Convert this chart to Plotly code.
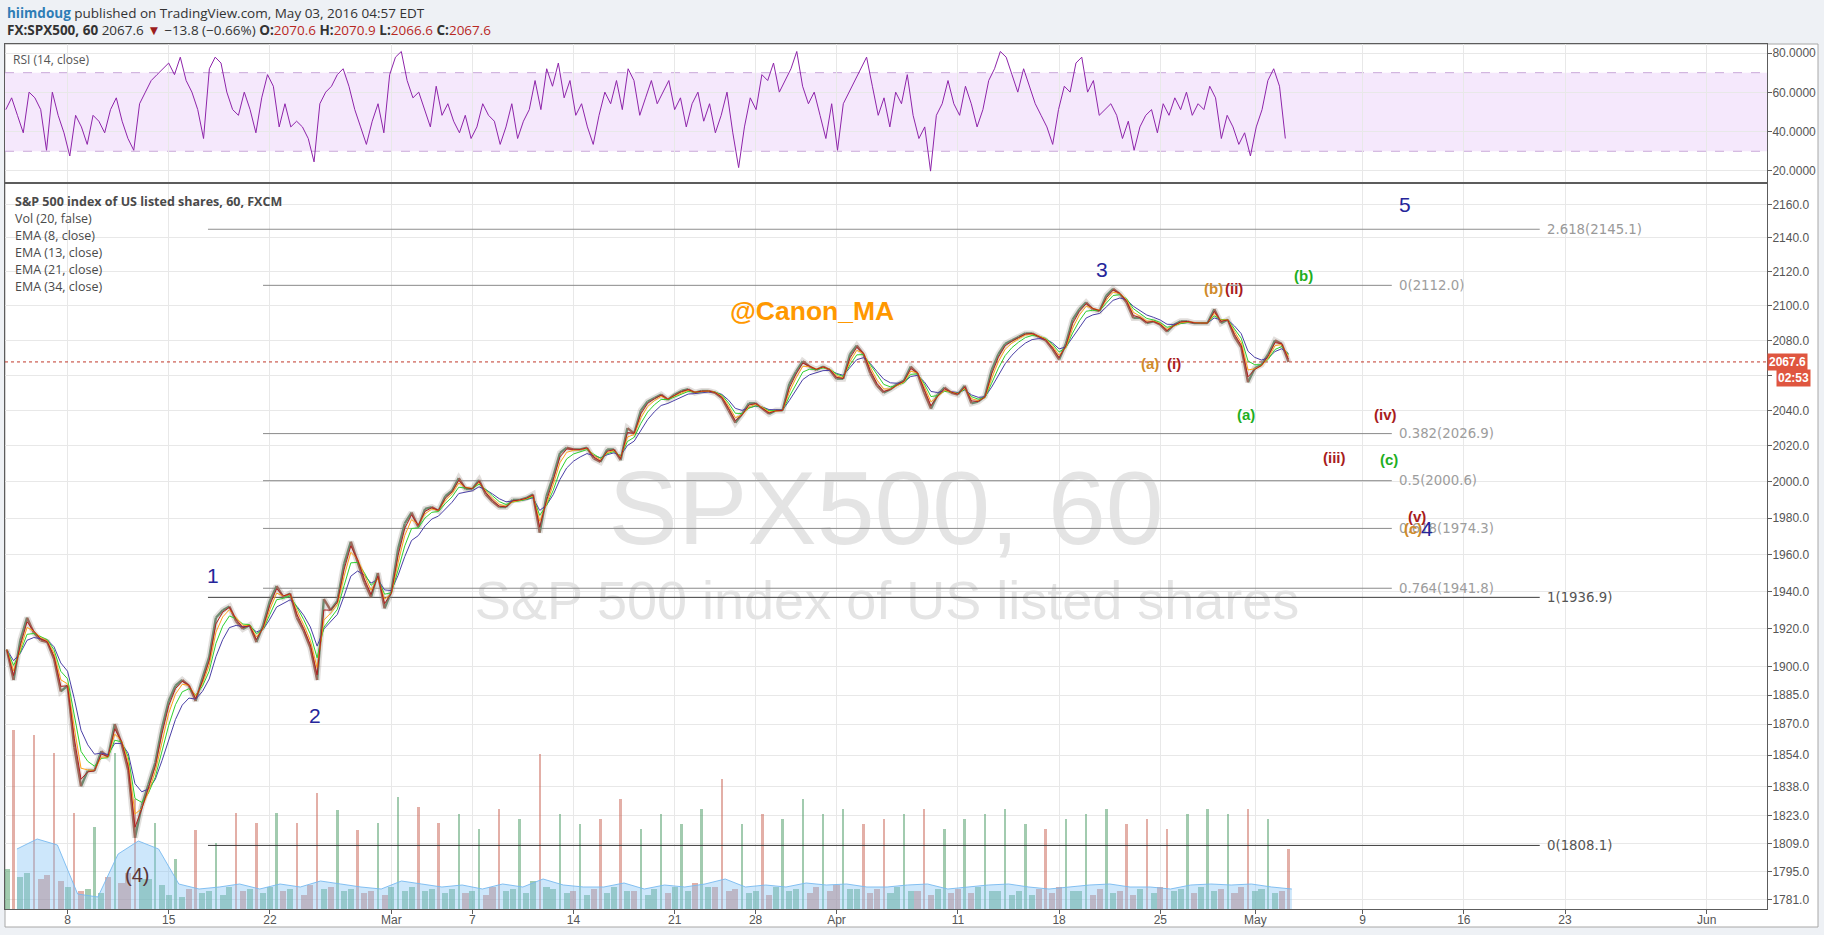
import numpy as np
import plotly.graph_objects as go

# ---------------- DATA ----------------
# time unit: trading days, 0 = Mon 8 Feb 2016; price sampled every 1/3 trading day from day -3
price_part1 = [1909, 1893, 1914, 1926, 1918, 1914, 1913, 1904, 1887, 1890,
               1858, 1838, 1846, 1846, 1856, 1853, 1870, 1860, 1846, 1812,
               1828, 1839, 1850, 1868, 1882, 1890, 1893, 1890, 1882, 1894,
               1905, 1926, 1930, 1932, 1924, 1920, 1922, 1913, 1922, 1935,
               1943, 1937, 1939, 1926, 1919, 1910, 1893, 1936]
price_part2 = [1930, 1935,
               1955, 1967, 1956, 1945, 1937, 1950, 1931, 1940, 1963, 1977,
               1983, 1975, 1985, 1986, 1984, 1992, 1995, 2002, 1996, 1996,
               2001, 1993, 1989, 1986, 1986, 1990, 1990, 1991, 1993, 1972,
               1992, 2003, 2016, 2019, 2018, 2018, 2019, 2013, 2011, 2018,
               2018, 2012, 2030, 2027, 2040, 2045]
price_part3 = [2047, 2049, 2046, 2049,
               2051, 2052, 2050, 2051, 2051, 2050, 2047, 2040, 2033, 2038,
               2044, 2044, 2041, 2038, 2040, 2040, 2055, 2062, 2068, 2065,
               2063, 2065, 2063, 2058, 2058, 2072, 2077, 2072, 2061, 2054,
               2050, 2052, 2055, 2057, 2065, 2061, 2050, 2041, 2049, 2053,
               2050, 2049, 2054, 2044]
price_part4 = [2045, 2048, 2063, 2072, 2078, 2080,
               2082, 2084, 2084, 2082, 2080, 2075, 2069, 2078, 2092, 2098,
               2102, 2098, 2097, 2106, 2110, 2107, 2102, 2093, 2093, 2090,
               2091, 2089, 2085, 2089, 2091, 2091, 2090, 2090, 2090, 2098,
               2090, 2092, 2082, 2076, 2056, 2064, 2066, 2072, 2080, 2078, 2067.6]

# volume per trading day (day -3 .. 60): night, US session, evening
vol_night = [40, 36, 34, 22, 20, 32, 36, 30, 14, 20,
             18, 22, 20, 22, 20, 24, 22, 20, 18, 22,
             22, 20, 20, 18, 22, 20, 28, 20, 18, 20,
             22, 18, 20, 22, 26, 22, 20, 18, 22, 20,
             22, 24, 20, 20, 22, 18, 20, 20, 22, 18,
             18, 20, 22, 18, 20, 18, 20, 22, 20, 22,
             20, 22, 20, 18]
vol_session = [179, 174, 156, 96, 82, 156, 110, 86, 50, 79,
               66, 96, 86, 96, 86, 116, 99, 79, 86, 112,
               102, 86, 95, 80, 100, 90, 155, 95, 85, 90,
               110, 80, 95, 85, 100, 130, 85, 95, 90, 110,
               95, 100, 85, 90, 95, 100, 80, 90, 95, 100,
               85, 80, 90, 95, 100, 85, 90, 80, 95, 100,
               95, 100, 90, 60]
vol_evening = [32, 30, 28, 18, 16, 26, 30, 24, 12, 16,
               14, 18, 16, 18, 14, 20, 18, 16, 14, 18,
               18, 16, 16, 14, 18, 16, 22, 16, 14, 16,
               18, 14, 16, 18, 22, 18, 16, 14, 18, 16,
               18, 20, 16, 16, 18, 14, 16, 16, 18, 14,
               14, 16, 18, 14, 16, 14, 16, 18, 16, 18,
               16, 18, 16, 14]
vol_ma = [60, 70, 64, 15, 12, 55, 68, 60, 25, 20,
          22, 25, 20, 25, 22, 28, 25, 22, 20, 28,
          25, 22, 24, 20, 25, 22, 30, 24, 22, 22,
          26, 20, 24, 22, 25, 30, 22, 24, 22, 26,
          24, 25, 22, 22, 24, 25, 20, 22, 24, 25,
          22, 20, 22, 24, 25, 22, 22, 20, 24, 25,
          24, 25, 22, 20]

# RSI(14) read every ~0.287 trading day from day -3.05
rsi_part1 = [51.2, 57.2, 48.3, 39.4, 60.1, 57.2, 51.2, 30.5, 60.1, 48.3, 39.4, 27.6, 48.3, 42.4,
             33.5, 48.3, 45.3, 39.4, 51.2, 57.2, 45.3, 36.5, 30.5, 54.2, 60.1, 66.0, 69.0, 72.0,
             74.9, 69.0, 77.9, 66.0, 60.1, 51.2, 36.5, 72.0, 77.9, 74.9, 60.1, 51.2, 48.3, 60.1,
             51.2, 39.4, 57.2, 69.0, 63.1, 42.4, 54.2, 42.4, 45.3, 42.4, 36.5, 24.6, 54.2]
rsi_part2 = [60.1, 63.1, 69.0, 72.0, 63.1, 51.2, 42.4, 33.5, 45.3, 54.2, 39.4, 69.0, 77.9, 80.8,
             66.0, 57.2, 60.1, 51.2, 42.4, 63.1, 48.3, 54.2, 45.3, 39.4, 48.3, 36.5, 42.4, 54.2,
             48.3, 45.3, 33.5, 42.4, 54.2, 36.5, 45.3, 51.2, 66.0, 51.2, 72.0, 63.1, 74.9, 57.2,
             66.0, 48.3, 54.2, 42.4, 33.5, 48.3, 60.1, 54.2, 66.0, 51.2, 72.0, 66.0, 48.3]
rsi_part3 = [57.2, 66.0, 54.2, 60.1, 66.0, 51.2, 57.2, 42.4, 54.2, 60.1, 45.3, 54.2, 39.4, 48.3,
             60.1, 39.4, 21.7, 42.4, 57.2, 51.2, 69.0, 66.0, 74.9, 60.1, 66.0, 72.0, 80.8, 63.1,
             54.2, 60.1, 48.3, 36.5, 54.2, 30.5, 54.2, 60.1, 66.0, 72.0, 77.9, 63.1, 48.3, 57.2,
             42.4, 60.1, 54.2, 69.0, 48.3, 36.5, 42.4, 19.9, 48.3, 54.2, 66.0, 54.2, 48.3]
rsi_part4 = [63.1, 54.2, 42.4, 51.2, 66.0, 72.0, 80.8, 77.9, 69.0, 60.1, 72.0, 63.1, 54.2, 48.3,
             42.4, 33.5, 51.2, 63.1, 60.1, 74.9, 77.9, 60.1, 66.0, 48.3, 51.2, 54.2, 48.3, 36.5,
             45.3, 30.5, 42.4, 48.3, 51.2, 39.4, 54.2, 48.3, 57.2, 51.2, 60.1, 48.3, 54.2, 51.2,
             63.1, 57.2, 36.5, 48.3, 42.4, 33.5, 39.4, 27.6, 42.4, 51.2, 66.0, 72.0, 63.1, 36.5]

# axis ticks (the 2060 label is hidden behind the last-price badges in the original)
price_ticks = [1781, 1795, 1809, 1823, 1838, 1854, 1870, 1885, 1900, 1920, 1940, 1960,
               1980, 2000, 2020, 2040, 2060, 2080, 2100, 2120, 2140, 2160]
hidden_price_ticks = [2060]
rsi_ticks = [20, 40, 60, 80]
date_tick_days = [0, 5, 10, 16, 20, 25, 30, 34, 38, 44, 49, 54, 58.7, 64, 69, 74, 81]
date_tick_text = ["8", "15", "22", "Mar", "7", "14", "21", "28", "Apr", "11", "18", "25",
                  "May", "9", "16", "23", "Jun"]

# Fibonacci drawings (level label, price, start day, end day)
fib_ext_levels = ["0", "1", "2.618"]
fib_ext_prices = [1808.1, 1936.9, 2145.1]
fib_ext_span = [6.94, 72.75]
fib_ret_levels = ["0", "0.382", "0.5", "0.618", "0.764"]
fib_ret_prices = [2112.0, 2026.9, 2000.6, 1974.3, 1941.8]
fib_ret_span = [9.66, 65.44]
last_price = 2067.6

# Elliott wave labels: text, day, price, colour key
wave_labels = [
    ("(4)", 3.42, 1793.3, "brown"), ("1", 7.18, 1948.9, "navy"), ("2", 12.23, 1874.7, "navy"),
    ("3", 51.1, 2121.3, "navy"), ("5", 66.09, 2159.6, "navy"),
    ("(a)", 53.49, 2066.8, "orange"), ("(i)", 54.68, 2066.8, "red"),
    ("(b)", 56.62, 2110.3, "orange"), ("(ii)", 57.66, 2110.3, "red"),
    ("(b)", 61.1, 2118.0, "green"), ("(a)", 58.22, 2037.4, "green"),
    ("(iv)", 65.11, 2037.9, "red"), ("(iii)", 62.59, 2013.6, "red"), ("(c)", 65.3, 2012.5, "green"),
    ("(v)", 66.67, 1980.7, "red"), ("(c)", 66.5, 1974.3, "orange"), ("4", 67.17, 1974.0, "navy"),
]

# ---------------- derived series ----------------
price = price_part1 + price_part2 + price_part3 + price_part4
n = len(price)
t_price = -3 + np.arange(n) / 3.0

# split the price path into rising / falling segments (candle colouring)
up_x, up_y, dn_x, dn_y = [], [], [], []
for i in range(1, n):
    seg_x = [t_price[i - 1], t_price[i], None]
    seg_y = [price[i - 1], price[i], None]
    if price[i] >= price[i - 1]:
        up_x += seg_x
        up_y += seg_y
    else:
        dn_x += seg_x
        dn_y += seg_y

volume, vol_width = [], []
for a, b, c in zip(vol_night, vol_session, vol_evening):
    volume += [a, b, c]
    vol_width += [0.3, 0.12, 0.3]
volume = volume[:n]
vol_width = vol_width[:n]
vol_colors = ["rgba(86,160,110,0.55)" if i == 0 or price[i] >= price[i - 1]
              else "rgba(200,95,80,0.5)" for i in range(n)]
t_vol_ma = np.arange(len(vol_ma)) - 3 + 0.5

rsi = rsi_part1 + rsi_part2 + rsi_part3 + rsi_part4
t_rsi = -3.05 + 0.2874 * np.arange(len(rsi))


def ema(values, bars, hours_per_step=23 / 3):
    a_bar = 2.0 / (bars + 1)
    a = 1 - (1 - a_bar) ** hours_per_step
    out, e = [], values[0]
    for v in values:
        e = e + a * (v - e)
        out.append(e)
    return out


# ---------------- geometry ----------------
W, H = 1824, 935
PL, PR, PT, PB = 5, 1767, 44, 909
X_LO, X_HI = -3.09, 83.98
RSI_BOTTOM_PX, PRICE_TOP_PX = 182, 184


def pxx(x):
    return (x - PL) / (PR - PL)


def pxy(y):
    return (PB - y) / (PB - PT)


price_dom = [0, pxy(PRICE_TOP_PX)]
rsi_dom = [pxy(RSI_BOTTOM_PX), 1]
VOL_RANGE = PB - PRICE_TOP_PX
log_lo, log_hi = np.log10(1776.5), np.log10(2172.2)

AXIS_FONT = "Liberation Sans, Arial, sans-serif"
UI_FONT = "Open Sans, Segoe UI, sans-serif"
GRID = "#e8e8e8"
LINE = "#5c5c5c"
PAGE_BG = "#eef1f5"

fig = go.Figure()

# watermark (on the volume base layer so it sits under the price)
fig.add_trace(go.Scatter(x=[40.45], y=[PB - 518], mode="text", text=["SPX500, 60"],
                         textfont=dict(family=AXIS_FONT, size=104, color="#e4e4e4"),
                         xaxis="x", yaxis="y", hoverinfo="skip"))
fig.add_trace(go.Scatter(x=[40.5], y=[PB - 605], mode="text",
                         text=["S&P 500 index of US listed shares"],
                         textfont=dict(family=AXIS_FONT, size=54, color="#e4e4e4"),
                         xaxis="x", yaxis="y", hoverinfo="skip"))

# volume + its moving average
fig.add_trace(go.Scatter(x=t_vol_ma, y=vol_ma, mode="lines",
                         line=dict(color="rgba(120,185,240,0.9)", width=1),
                         fill="tozeroy", fillcolor="rgba(130,195,245,0.4)", xaxis="x", yaxis="y",
                         hoverinfo="skip"))
fig.add_trace(go.Bar(x=t_price, y=volume, width=vol_width,
                     marker=dict(color=vol_colors, line=dict(width=0)),
                     xaxis="x", yaxis="y", hoverinfo="skip"))

# fib lines
for lvl, p in zip(fib_ext_levels, fib_ext_prices):
    col = "#8f8f8f" if lvl == "2.618" else "#3c3c3c"
    fig.add_trace(go.Scatter(x=fib_ext_span, y=[p, p], mode="lines", line=dict(color=col, width=1),
                             xaxis="x", yaxis="y3", hoverinfo="skip"))
for lvl, p in zip(fib_ret_levels, fib_ret_prices):
    fig.add_trace(go.Scatter(x=fib_ret_span, y=[p, p], mode="lines", line=dict(color="#8a8a8a", width=1),
                             xaxis="x", yaxis="y3", hoverinfo="skip"))

# last price dotted line
fig.add_trace(go.Scatter(x=[X_LO, X_HI], y=[last_price, last_price], mode="lines",
                         line=dict(color="#c0392b", width=1, dash="dot"), xaxis="x", yaxis="y3",
                         hoverinfo="skip"))

# price: soft band + up/down coloured path (mimicking dense hourly candles)
fig.add_trace(go.Scatter(x=t_price, y=price, mode="lines", line=dict(color="rgba(125,110,98,0.22)", width=6),
                         xaxis="x", yaxis="y3", hoverinfo="skip"))
fig.add_trace(go.Scatter(x=up_x, y=up_y, mode="lines", line=dict(color="#6f8a70", width=2.4),
                         connectgaps=False, xaxis="x", yaxis="y3", hoverinfo="skip"))
fig.add_trace(go.Scatter(x=dn_x, y=dn_y, mode="lines", line=dict(color="#9c6a5c", width=2.4),
                         connectgaps=False, xaxis="x", yaxis="y3", hoverinfo="skip"))
# EMAs
for bars, col in [(34, "#4a3fa6"), (21, "#2fd12f"), (13, "#ffa31a"), (8, "#b01e1e")]:
    fig.add_trace(go.Scatter(x=t_price, y=ema(price, bars), mode="lines", line=dict(color=col, width=1),
                             xaxis="x", yaxis="y3", hoverinfo="skip"))

# RSI
fig.add_trace(go.Scatter(x=t_rsi, y=rsi, mode="lines", line=dict(color="#8e24aa", width=1),
                         xaxis="x2", yaxis="y2", hoverinfo="skip"))

# ---------------- shapes ----------------
shapes = [
    dict(type="rect", xref="paper", yref="paper", x0=pxx(5), x1=pxx(1818), y0=pxy(927), y1=pxy(44),
         fillcolor="white", line=dict(color="#a8a8a8", width=1), layer="below"),
    dict(type="rect", xref="paper", yref="y2", x0=0, x1=1, y0=30, y1=70,
         fillcolor="#f5e8fc", line=dict(width=0), layer="below"),
    dict(type="line", xref="paper", yref="y2", x0=0, x1=1, y0=70, y1=70,
         line=dict(color="#c9a9d9", width=1, dash="dash"), layer="below"),
    dict(type="line", xref="paper", yref="y2", x0=0, x1=1, y0=30, y1=30,
         line=dict(color="#c9a9d9", width=1, dash="dash"), layer="below"),
]

# ---------------- annotations ----------------
ann = []
ann.append(dict(xref="paper", yref="paper", x=pxx(5), y=pxy(13), xanchor="left", yanchor="middle",
                showarrow=False, font=dict(family=UI_FONT, size=13.5, color="#333"),
                text="<b><span style='color:#2f7db6'>hiimdoug</span></b> published on TradingView.com, May 03, 2016 04:57 EDT"))
red = "#b8281f"
ann.append(dict(xref="paper", yref="paper", x=pxx(5), y=pxy(30), xanchor="left", yanchor="middle",
                showarrow=False, font=dict(family=UI_FONT, size=13.5, color="#333"),
                text=("<b>FX:SPX500, 60</b> 2067.6 <span style='color:#9b1c1c'>▼</span> −13.8 (−0.66%) "
                      f"<b>O:</b><span style='color:{red}'>2070.6</span> <b>H:</b><span style='color:{red}'>2070.9</span> "
                      f"<b>L:</b><span style='color:{red}'>2066.6</span> <b>C:</b><span style='color:{red}'>2067.6</span>")))
ann.append(dict(xref="paper", yref="paper", x=pxx(11), y=pxy(59), xanchor="left", yanchor="middle",
                showarrow=False, font=dict(family=UI_FONT, size=12, color="#555"), text="RSI (14, close)"))
legend_lines = [("<b>S&P 500 index of US listed shares, 60, FXCM</b>", 201.7), ("Vol (20, false)", 218.5),
                ("EMA (8, close)", 235.5), ("EMA (13, close)", 252.5), ("EMA (21, close)", 269.2),
                ("EMA (34, close)", 286)]
for txt, yy in legend_lines:
    ann.append(dict(xref="paper", yref="paper", x=pxx(13), y=pxy(yy), xanchor="left", yanchor="middle",
                    showarrow=False, font=dict(family=UI_FONT, size=12.5, color="#4a4a4a"), text=txt))

# fib labels
for lvl, p in zip(fib_ext_levels, fib_ext_prices):
    col = "#999" if lvl == "2.618" else "#555"
    ann.append(dict(xref="x", yref="y3", x=fib_ext_span[1] + 0.25, y=np.log10(p), xanchor="left",
                    yanchor="middle", showarrow=False, font=dict(family="DejaVu Sans", size=13.3, color=col),
                    text=f"{lvl}({p:.1f})"))
for lvl, p in zip(fib_ret_levels, fib_ret_prices):
    ann.append(dict(xref="x", yref="y3", x=fib_ret_span[1] + 0.25, y=np.log10(p), xanchor="left",
                    yanchor="middle", showarrow=False, font=dict(family="DejaVu Sans", size=13.3, color="#9d9d9d"),
                    text=f"{lvl}({p:.1f})"))

wave_style = {
    "navy": dict(family=AXIS_FONT, size=21, color="#25259a"),
    "brown": dict(family=AXIS_FONT, size=20, color="#5a3535"),
    "orange": dict(family=AXIS_FONT, size=15, color="#cf8a2a"),
    "red": dict(family=AXIS_FONT, size=15, color="#a81c1c"),
    "green": dict(family=AXIS_FONT, size=15, color="#1fae1f"),
}
for txt, d, p, key in wave_labels:
    t = f"<b>{txt}</b>" if key in ("orange", "red", "green") else txt
    ann.append(dict(xref="x", yref="y3", x=d, y=np.log10(p), xanchor="center", yanchor="middle",
                    showarrow=False, font=wave_style[key], text=t))

ann.append(dict(xref="x", yref="y3", x=36.79, y=np.log10(2097.0), xanchor="center", yanchor="middle",
                showarrow=False, font=dict(family=AXIS_FONT, size=26.5, color="#ff9800"), text="<b>@Canon_MA</b>"))

# last price badges
ann.append(dict(xref="paper", yref="y3", x=1, y=np.log10(last_price), xanchor="left", yanchor="middle",
                showarrow=False, bgcolor="#df5640", borderpad=1,
                font=dict(family=AXIS_FONT, size=12, color="white"), text=f"<b>{last_price:.1f}</b>"))
ann.append(dict(xref="paper", yref="paper", x=pxx(1776), y=pxy(377.5), xanchor="left", yanchor="middle",
                showarrow=False, bgcolor="#df5640", borderpad=1,
                font=dict(family=AXIS_FONT, size=12, color="white"), text="<b>02:53</b>"))

price_tick_text = ["" if v in hidden_price_ticks else f"{v:.1f}" for v in price_ticks]

fig.update_layout(
    width=W, height=H,
    margin=dict(l=PL, r=W - PR, t=PT, b=H - PB, pad=0),
    paper_bgcolor=PAGE_BG, plot_bgcolor="rgba(0,0,0,0)",
    showlegend=False, bargap=0,
    font=dict(family=AXIS_FONT, size=11, color="#555"),
    xaxis=dict(domain=[0, 1], anchor="y", range=[X_LO, X_HI], tickvals=date_tick_days, ticktext=date_tick_text,
               showgrid=True, gridcolor=GRID, gridwidth=1, zeroline=False, showline=True, mirror=True,
               linecolor=LINE, linewidth=1, ticks="outside", ticklen=4, tickcolor=LINE,
               ticklabelstandoff=-4,
               tickfont=dict(family=AXIS_FONT, size=12, color="#555")),
    xaxis2=dict(domain=[0, 1], anchor="y2", matches="x", range=[X_LO, X_HI], tickvals=date_tick_days,
                showticklabels=False, showgrid=True, gridcolor=GRID, zeroline=False, showline=True,
                mirror=True, linecolor=LINE, linewidth=1, ticks=""),
    yaxis=dict(domain=price_dom, anchor="x", range=[0, VOL_RANGE], showgrid=False, zeroline=False,
               showticklabels=False, showline=False, ticks=""),
    yaxis3=dict(overlaying="y", anchor="x", side="right", type="log", range=[log_lo, log_hi],
                tickvals=price_ticks, ticktext=price_tick_text,
                showgrid=True, gridcolor=GRID, zeroline=False, showline=True, mirror=True,
                linecolor=LINE, linewidth=1, ticks="outside", ticklen=4, tickcolor=LINE,
                ticklabelstandoff=-2,
                tickfont=dict(family=AXIS_FONT, size=12, color="#555")),
    yaxis2=dict(domain=rsi_dom, anchor="x2", side="right", range=[14.36, 84.6], tickvals=rsi_ticks,
                ticktext=[f"{v:.4f}" for v in rsi_ticks], showgrid=True, gridcolor=GRID, zeroline=False,
                showline=True, mirror=True, linecolor=LINE, linewidth=1, ticks="outside", ticklen=4,
                ticklabelstandoff=-2,
                tickcolor=LINE, tickfont=dict(family=AXIS_FONT, size=12, color="#555")),
    shapes=shapes,
    annotations=ann,
)

# remove the browser's default page margin so the 1824x935 figure fills the window exactly
page_fix = ("document.body.style.margin='0';document.body.style.padding='0';"
            "document.body.style.overflow='hidden';document.body.style.background='" + PAGE_BG + "';")
fig.write_html("out.html", post_script=page_fix, config={"displayModeBar": False})
